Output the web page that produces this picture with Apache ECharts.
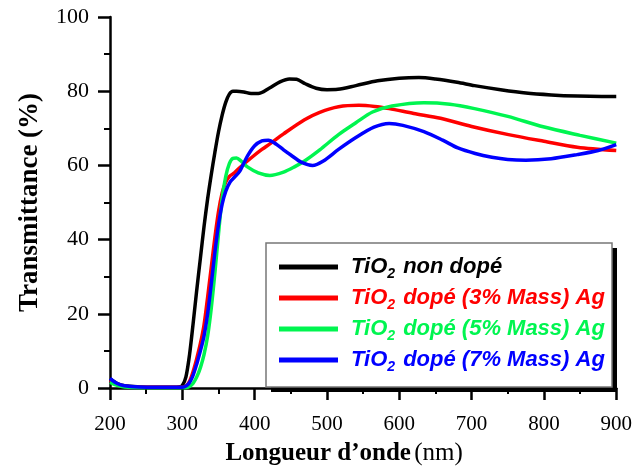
<!DOCTYPE html>
<html>
<head>
<meta charset="utf-8">
<script src="https://cdn.jsdelivr.net/npm/echarts@6/dist/echarts.min.js"></script>
<style>
  html, body { margin: 0; padding: 0; background: #fff; }
  #chart { width: 635px; height: 471px; }
</style>
</head>
<body>
<div id="chart"></div>
<script>
// Transmittance spectra, [wavelength nm, transmittance %]
const undoped = [
  [200, 2.5], [210, 1.2], [220, 0.6], [240, 0.3], [260, 0.2], [280, 0.2], [295, 0.3],
  [300, 0.7], [305, 3], [310, 9], [315, 17.5], [320, 26.5], [325, 35], [330, 43.5],
  [335, 51], [340, 57.5], [345, 63.5], [350, 69], [355, 73.5], [360, 77], [365, 79.2],
  [370, 80], [375, 80], [385, 79.8], [395, 79.4], [405, 79.4], [420, 80.8], [435, 82.5],
  [448, 83.3], [458, 83.2], [470, 82], [485, 80.8], [500, 80.4], [515, 80.5], [540, 81.5],
  [570, 82.8], [600, 83.5], [627, 83.7], [650, 83.3], [680, 82.4], [704, 81.5], [740, 80.4],
  [775, 79.5], [810, 79], [846, 78.7], [880, 78.6], [900, 78.6]
];
const doped3 = [
  [200, 2.2], [210, 1.0], [220, 0.5], [240, 0.2], [300, 0.2], [305, 0.5], [310, 1.8],
  [315, 4.5], [320, 8], [325, 12], [330, 17], [335, 24.5], [340, 32.5], [345, 40.5],
  [350, 47.5], [355, 52.5], [360, 55.5], [365, 57], [372, 58], [380, 59.5], [395, 62],
  [410, 64.3], [421, 65.8], [440, 68.5], [469, 72.3], [490, 74.3], [516, 75.8], [544, 76.2],
  [566, 75.9], [586, 75.3], [620, 74], [657, 72.7], [700, 70.5], [751, 68.3], [800, 66.5],
  [846, 64.9], [900, 64.0]
];
const doped5 = [
  [200, 1.5], [210, 0.7], [220, 0.3], [240, 0.1], [305, 0.1], [310, 0.4], [315, 1.3],
  [320, 3], [325, 5.5], [330, 9], [335, 14], [340, 21.5], [345, 31], [350, 41.5],
  [355, 51], [360, 57], [365, 60.5], [370, 61.9], [375, 62], [381, 61.2], [390, 59.6],
  [405, 58], [421, 57.3], [440, 58.2], [455, 59.6], [469, 61.2], [490, 64.2], [516, 68.3],
  [540, 71.5], [563, 74.4], [590, 76.0], [634, 76.9], [670, 76.5], [704, 75.3], [750, 73.2],
  [799, 70.4], [850, 68.1], [900, 66.0]
];
const doped7 = [
  [200, 2.6], [210, 1.2], [220, 0.6], [240, 0.3], [300, 0.2], [305, 0.5], [310, 1.5],
  [315, 3.5], [320, 6.5], [325, 10], [330, 14], [335, 20], [340, 28], [345, 36.5],
  [350, 44], [355, 49.5], [360, 53], [366, 55.5], [372, 56.8], [379, 58.3], [390, 62.5],
  [400, 65.3], [410, 66.6], [419, 66.8], [430, 65.7], [440, 64.2], [450, 62.8], [465, 60.8],
  [480, 60], [495, 61.2], [516, 64.3], [540, 67.5], [565, 70.3], [586, 71.3], [605, 70.8],
  [634, 69.1], [660, 66.8], [681, 64.7], [705, 63.2], [728, 62.2], [750, 61.6], [775, 61.4],
  [810, 61.8], [846, 62.9], [875, 64.0], [900, 65.6]
];

const seriesNames = [
  'TiO2 non dopé',
  'TiO2 dopé (3% Mass) Ag',
  'TiO2 dopé (5% Mass) Ag',
  'TiO2 dopé (7% Mass) Ag'
];
const seriesColors = ['#000000', '#ff0000', '#00f550', '#0000ff'];
const seriesData = [undoped, doped3, doped5, doped7];

const xTicks = [200, 300, 400, 500, 600, 700, 800, 900];
const yTicks = [0, 20, 40, 60, 80, 100];

const legendFont = '"Liberation Sans", Arial, sans-serif';
const serifFont = '"Liberation Serif", "Times New Roman", serif';

// rich styles for the legend text, one main/subscript pair per colour
const legendRich = {};
seriesColors.forEach((c, i) => {
  legendRich['t' + i] = {
    color: c, fontFamily: legendFont, fontWeight: 'bold', fontStyle: 'italic',
    fontSize: 22, lineHeight: 26, verticalAlign: 'middle'
  };
  legendRich['s' + i] = {
    color: c, fontFamily: legendFont, fontWeight: 'bold', fontStyle: 'italic',
    fontSize: 14, lineHeight: 28, verticalAlign: 'bottom', padding: [0, 2, 0, 0]
  };
});

const chart = echarts.init(document.getElementById('chart'), null, { renderer: 'canvas' });

const axisLineStyle = { color: '#000', width: 2.5 };

chart.setOption({
  animation: false,
  backgroundColor: '#fff',
  grid: { left: 110, right: 18, top: 17, bottom: 77, containLabel: false },
  graphic: [
    { type: 'rect', z: 1, shape: { x: 271, y: 248, width: 346, height: 144 },
      style: { fill: '#000' } },
    { type: 'rect', z: 2, shape: { x: 266, y: 243, width: 346, height: 144 },
      style: { fill: '#fff', stroke: '#777', lineWidth: 1.5 } }
  ],
  legend: {
    z: 10,
    orient: 'vertical',
    left: 266, top: 243,
    padding: [13, 4, 10, 13],
    itemGap: 6,
    itemWidth: 59,
    itemHeight: 5,
    icon: 'rect',
    data: seriesNames,
    formatter: function (name) {
      const i = seriesNames.indexOf(name);
      const rest = name.replace('TiO2', '');
      return '{t' + i + '|TiO}{s' + i + '|2}{t' + i + '|' + rest + '}';
    },
    textStyle: { rich: legendRich, padding: [0, 0, 0, 8] }
  },
  xAxis: {
    type: 'value',
    min: 200, max: 900, interval: 100,
    name: '{b|Longueur d’onde} {r|(nm)}',
    nameLocation: 'middle',
    nameGap: 53,
    nameTextStyle: {
      padding: [0, 38, 0, 0],
      rich: {
        b: { fontFamily: serifFont, fontWeight: 'bold', fontSize: 25, color: '#000' },
        r: { fontFamily: serifFont, fontSize: 25, color: '#000' }
      }
    },
    axisLine: { show: true, lineStyle: axisLineStyle },
    axisTick: { show: true, inside: false, length: 12, lineStyle: { width: 2.5, color: '#000' } },
    minorTick: { show: true, splitNumber: 2, length: 6, lineStyle: { width: 2, color: '#000' } },
    splitLine: { show: false },
    axisLabel: {
      margin: 26, fontFamily: serifFont, fontSize: 21, color: '#000',
      formatter: function (v) { return xTicks.indexOf(v) >= 0 ? String(v) : ''; }
    }
  },
  yAxis: {
    type: 'value',
    min: 0, max: 100, interval: 20,
    name: 'Transmittance (%)',
    nameLocation: 'middle',
    nameGap: 66,
    nameTextStyle: { fontFamily: serifFont, fontWeight: 'bold', fontSize: 27, color: '#000' },
    axisLine: { show: true, lineStyle: axisLineStyle },
    axisTick: { show: true, inside: false, length: 12, lineStyle: { width: 2.5, color: '#000' } },
    minorTick: { show: true, splitNumber: 2, length: 6, lineStyle: { width: 2, color: '#000' } },
    splitLine: { show: false },
    axisLabel: {
      margin: 21, fontFamily: serifFont, fontSize: 22, color: '#000',
      formatter: function (v) { return yTicks.indexOf(v) >= 0 ? String(v) : ''; }
    }
  },
  series: seriesData.map((d, i) => ({
    name: seriesNames[i],
    type: 'line',
    data: d,
    showSymbol: false,
    smooth: 0.3,
    z: 3 + i,
    color: seriesColors[i],
    lineStyle: { color: seriesColors[i], width: 3.5 },
    itemStyle: { color: seriesColors[i] }
  }))
});
</script>
</body>
</html>
